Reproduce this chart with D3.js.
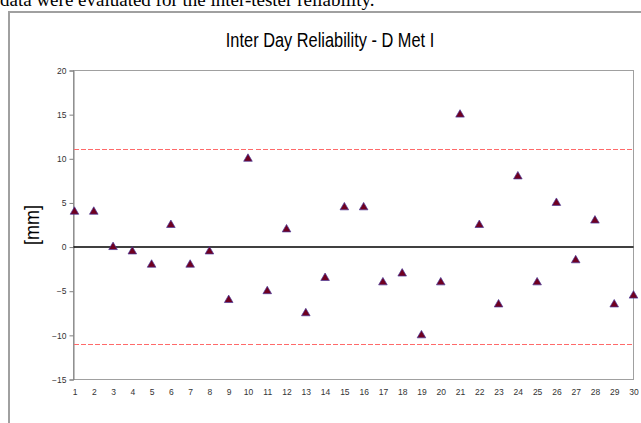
<!DOCTYPE html>
<html>
<head>
<meta charset="utf-8">
<script src="https://d3js.org/d3.v7.min.js"></script>
<style>
  body { margin: 0; background: #fff; }
  svg { display: block; }
</style>
</head>
<body>
<div id="chart"></div>
<script>
// session number and inter-day difference (mm)
const sessions = d3.range(1, 31);
const diffs = [4, 4, 0, -0.5, -2, 2.5, -2, -0.5, -6, 10,
               -5, 2, -7.5, -3.5, 4.5, 4.5, -4, -3, -10, -4,
               15, 2.5, -6.5, 8, -4, 5, -1.5, 3, -6.5, -5.5];
const limits = [11, -11];
const yTicks = [20, 15, 10, 5, 0, -5, -10, -15];

const W = 641, H = 423;
const margin = {top: 70.5, right: 8, bottom: 44, left: 73.5};
const width = 560,
      height = 309;

const svg = d3.select("#chart").append("svg")
    .attr("width", W).attr("height", H);

// cut-off sentence from the surrounding document
svg.append("text")
    .attr("x", 0).attr("y", 6)
    .style("font-family", "Liberation Serif, Times New Roman, serif")
    .style("font-size", "19px")
    .text("data were evaluated for the inter-tester reliability.");

// outer chart frame
svg.append("rect")
    .attr("x", 9).attr("y", 12)
    .attr("width", 660).attr("height", 440)
    .attr("fill", "none").attr("stroke", "#a0a0a0").attr("stroke-width", 2);

svg.append("text")
    .attr("transform", "translate(330,47) scale(0.84,1)")
    .attr("text-anchor", "middle")
    .style("font-family", "Liberation Sans, Arial, sans-serif")
    .style("font-size", "19.5px")
    .text("Inter Day Reliability - D Met I");

svg.append("text")
    .attr("transform", `translate(39,${margin.top + height / 2}) rotate(-90) scale(0.9,1)`)
    .attr("text-anchor", "middle")
    .style("font-family", "Liberation Sans, Arial, sans-serif")
    .style("font-size", "20px")
    .text("[mm]");

const g = svg.append("g")
    .attr("transform", `translate(${margin.left},${margin.top})`);

const x = d3.scaleLinear().domain([1, 30]).range([1, width]);
const y = d3.scaleLinear().domain([-15, 20]).range([height, 0]);

// plot area box
g.append("rect")
    .attr("x", 0).attr("y", 0)
    .attr("width", width).attr("height", height)
    .attr("fill", "none").attr("stroke", "#a0a0a0").attr("stroke-width", 1);

// y axis
const yAxis = g.append("g")
    .call(d3.axisLeft(y).tickValues(yTicks).tickSize(4).tickPadding(3));
yAxis.select(".domain").attr("stroke", "#808080");
yAxis.selectAll(".tick line").attr("stroke", "#808080");
yAxis.selectAll("text")
    .style("font-family", "Liberation Sans, Arial, sans-serif")
    .style("font-size", "8.5px")
    .attr("fill", "#333");

// x axis labels
const xAxis = g.append("g")
    .attr("transform", `translate(0,${height})`)
    .call(d3.axisBottom(x).tickValues(sessions).tickSize(0).tickPadding(9));
xAxis.select(".domain").remove();
xAxis.selectAll("text")
    .style("font-family", "Liberation Sans, Arial, sans-serif")
    .style("font-size", "8.5px")
    .attr("fill", "#333");

// limits of agreement
g.selectAll(".limit")
    .data(limits)
    .join("line")
    .attr("class", "limit")
    .attr("x1", 0).attr("x2", width)
    .attr("y1", d => Math.round(y(d))).attr("y2", d => Math.round(y(d)))
    .attr("stroke", "#ff6a6a")
    .attr("stroke-width", 1)
    .attr("shape-rendering", "crispEdges")
    .attr("stroke-dasharray", "5,2");

// zero line
g.append("line")
    .attr("x1", 0).attr("x2", width)
    .attr("y1", y(0)).attr("y2", y(0))
    .attr("stroke", "#000").attr("stroke-width", 1.5);

// triangle markers
const tri = d3.symbol().type(d3.symbolTriangle).size(32);
g.selectAll(".pt")
    .data(diffs)
    .join("path")
    .attr("class", "pt")
    .attr("d", tri)
    .attr("transform", (d, i) => `translate(${x(sessions[i])},${y(d)})`)
    .attr("fill", "#700020")
    .attr("stroke", "#4a3a99")
    .attr("stroke-width", 0.7);
</script>
</body>
</html>
